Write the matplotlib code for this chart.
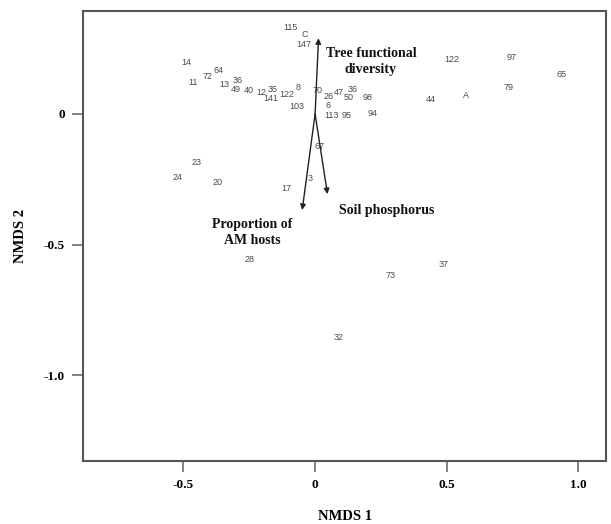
import matplotlib
matplotlib.use("Agg")
import matplotlib.pyplot as plt

# site scores (NMDS 1, NMDS 2)
labels = ["115", "C", "147", "14", "72", "64", "11", "13", "36", "40", "49",
          "12", "35", "141", "122", "8", "103", "70", "26", "47", "36", "50",
          "98", "6", "113", "95", "94", "44", "A", "122", "97", "79", "65",
          "67", "23", "24", "20", "17", "3", "28", "73", "37", "32"]
nmds1 = [-0.095, -0.040, -0.043, -0.490, -0.410, -0.366, -0.464, -0.346, -0.292, -0.250, -0.300,
         -0.205, -0.160, -0.168, -0.106, -0.065, -0.069, 0.008, 0.050, 0.091, 0.142, 0.126,
         0.200, 0.049, 0.062, 0.120, 0.220, 0.439, 0.572, 0.518, 0.748, 0.736, 0.937,
         0.018, -0.449, -0.521, -0.369, -0.111, -0.020, -0.247, 0.287, 0.488, 0.090]
nmds2 = [0.333, 0.305, 0.268, 0.199, 0.142, 0.165, 0.119, 0.111, 0.127, 0.090, 0.095,
         0.084, 0.092, 0.059, 0.076, 0.100, 0.027, 0.090, 0.066, 0.084, 0.092, 0.062,
         0.065, 0.032, -0.006, -0.006, 0.000, 0.054, 0.069, 0.207, 0.215, 0.100, 0.153,
         -0.126, -0.184, -0.245, -0.264, -0.287, -0.249, -0.559, -0.617, -0.575, -0.858]

# fitted environmental vectors
vec_names = ["Tree functional\ndiversity", "Soil phosphorus", "Proportion of\nAM hosts"]
vec_x = [0.013, 0.047, -0.049]
vec_y = [0.290, -0.307, -0.368]
vec_lab_x = [0.212, 0.272, -0.240]
vec_lab_y = [0.200, -0.368, -0.455]

serif = "Liberation Serif"

fig = plt.figure(figsize=(6.11, 5.24), dpi=100)
ax = fig.add_axes([0.136, 0.1208, 0.856, 0.859])

for lab, x, y in zip(labels, nmds1, nmds2):
    ax.text(x, y, lab, fontsize=6.5, color="#4a4a4a", ha="center", va="center",
            family="Liberation Sans")

for x, y in zip(vec_x, vec_y):
    ax.annotate("", xy=(x, y), xytext=(0, 0),
                arrowprops=dict(arrowstyle="-|>", color="#222222", lw=1.0,
                                mutation_scale=8, shrinkA=0, shrinkB=0))
for name, x, y in zip(vec_names, vec_lab_x, vec_lab_y):
    ax.text(x, y, name, fontsize=10, fontweight="bold", family=serif,
            ha="center", va="center", linespacing=1.3, color="#111111")

ax.set_xlim(-0.881, 1.105)
ax.set_ylim(-1.328, 0.396)
ax.set_xticks([-0.5, 0, 0.5, 1.0])
ax.set_xticklabels(["-0.5", "0", "0.5", "1.0"])
ax.set_yticks([0, -0.5, -1.0])
ax.set_yticklabels(["0", "-0.5", "-1.0"])
for t in ax.get_xticklabels() + ax.get_yticklabels():
    t.set_family(serif)
    t.set_fontweight("bold")
    t.set_fontsize(9.5)
ax.tick_params(direction="out", length=8, width=1.3, color="#777777", pad=5)
for s in ax.spines.values():
    s.set_color("#555555")
    s.set_linewidth(1.5)

ax.set_xlabel("NMDS 1", family=serif, fontweight="bold", fontsize=10.5, labelpad=14)
ax.set_ylabel("NMDS 2", family=serif, fontweight="bold", fontsize=10.5, labelpad=12)

fig.savefig("out.png", dpi=100)
